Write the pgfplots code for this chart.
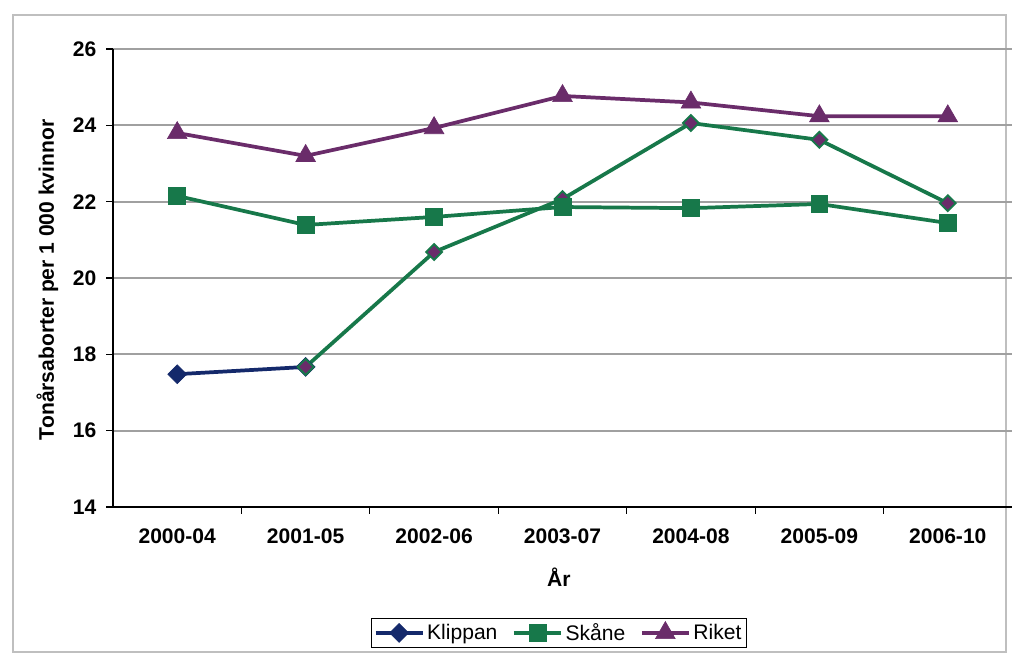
\documentclass[border=0pt]{standalone}
\usepackage{fontspec}
\setmainfont{Liberation Sans}
\usepackage{pgfplots}
\pgfplotsset{compat=1.18}
\definecolor{KlipNavy}{HTML}{14296B}
\definecolor{SkaneGreen}{HTML}{17784A}
\definecolor{RiketPurple}{HTML}{6A2C6A}
\definecolor{GridGray}{HTML}{A0A0A0}
\newcommand{\chartfont}{\fontsize{15.8}{18}\selectfont}

\begin{document}
\begin{tikzpicture}
% page = 1013 x 658 px at 0.75pt per px
\path[use as bounding box] (0,0) rectangle (759.75pt,-493.5pt);
\draw[gray!50, line width=1.3pt] (9.75pt,-11.25pt) rectangle (754.5pt,-489pt);

\begin{axis}[
  at={(84.75pt,-380.25pt)}, anchor=south west,
  scale only axis, width=674.25pt, height=343.5pt,
  xmin=-0.5, xmax=6.5, ymin=14, ymax=26,
  axis x line*=bottom, axis y line*=left,
  axis line style={black, line width=1pt, -},
  xtick={0,...,6},
  xticklabels={2000-04,2001-05,2002-06,2003-07,2004-08,2005-09,2006-10},
  major x tick style={draw=none},
  minor xtick={0.5,1.5,...,5.5},
  ytick={14,16,...,26},
  ymajorgrids, grid style={GridGray, line width=1.4pt},
  tick align=outside, tick style={black, line width=0.8pt},
  major tick length=5pt, minor tick length=5pt,
  ticklabel style={font=\bfseries\chartfont},
  /pgf/number format/assume math mode=true,
  xticklabel style={yshift=-8pt},
  yticklabel style={xshift=-4pt},
  xlabel={År}, ylabel={Tonårsaborter per 1 000 kvinnor},
  label style={font=\bfseries\chartfont},
  xlabel style={at={(axis description cs:0.496,-0.153)}, anchor=center},
  ylabel style={at={(axis description cs:-0.073,0.496)}, anchor=center},
  legend style={at={(0.496,-0.275)}, anchor=center, draw=black, line width=0.8pt,
    font=\chartfont, legend columns=3, inner sep=2pt,
    /tikz/every even column/.append style={column sep=9pt}},
  legend image code/.code={\draw[mark repeat=2,mark phase=2]
    plot coordinates {(0cm,0cm) (0.62cm,0cm) (1.24cm,0cm)};},
]
% Klippan: navy first segment, the rest prints green in the reference
\addplot[KlipNavy, line width=2.8pt, mark=square*, mark size=5pt,
  mark options={rotate=45, solid, line width=0.5pt}]
  coordinates {(0,17.48) (1,17.67)};
\addlegendentry{Klippan}
\addplot[SkaneGreen, line width=2.8pt, forget plot, mark=square*, mark size=4.2pt,
  mark options={rotate=45, fill=RiketPurple, draw=SkaneGreen, line width=1.4pt}]
  coordinates {(1,17.67) (2,20.68) (3,22.07) (4,24.06) (5,23.62) (6,21.96)};
\addplot[SkaneGreen, line width=2.8pt, mark=square*, mark size=6.3pt,
  mark options={line width=0.5pt}]
  coordinates {(0,22.15) (1,21.39) (2,21.60) (3,21.86) (4,21.83) (5,21.94) (6,21.44)};
\addlegendentry{Skåne}
\addplot[RiketPurple, line width=2.8pt, mark=triangle*, mark size=8.5pt,
  mark options={line width=0.5pt}]
  coordinates {(0,23.80) (1,23.20) (2,23.93) (3,24.77) (4,24.60) (5,24.24) (6,24.24)};
\addlegendentry{Riket}
\end{axis}
\end{tikzpicture}
\end{document}
